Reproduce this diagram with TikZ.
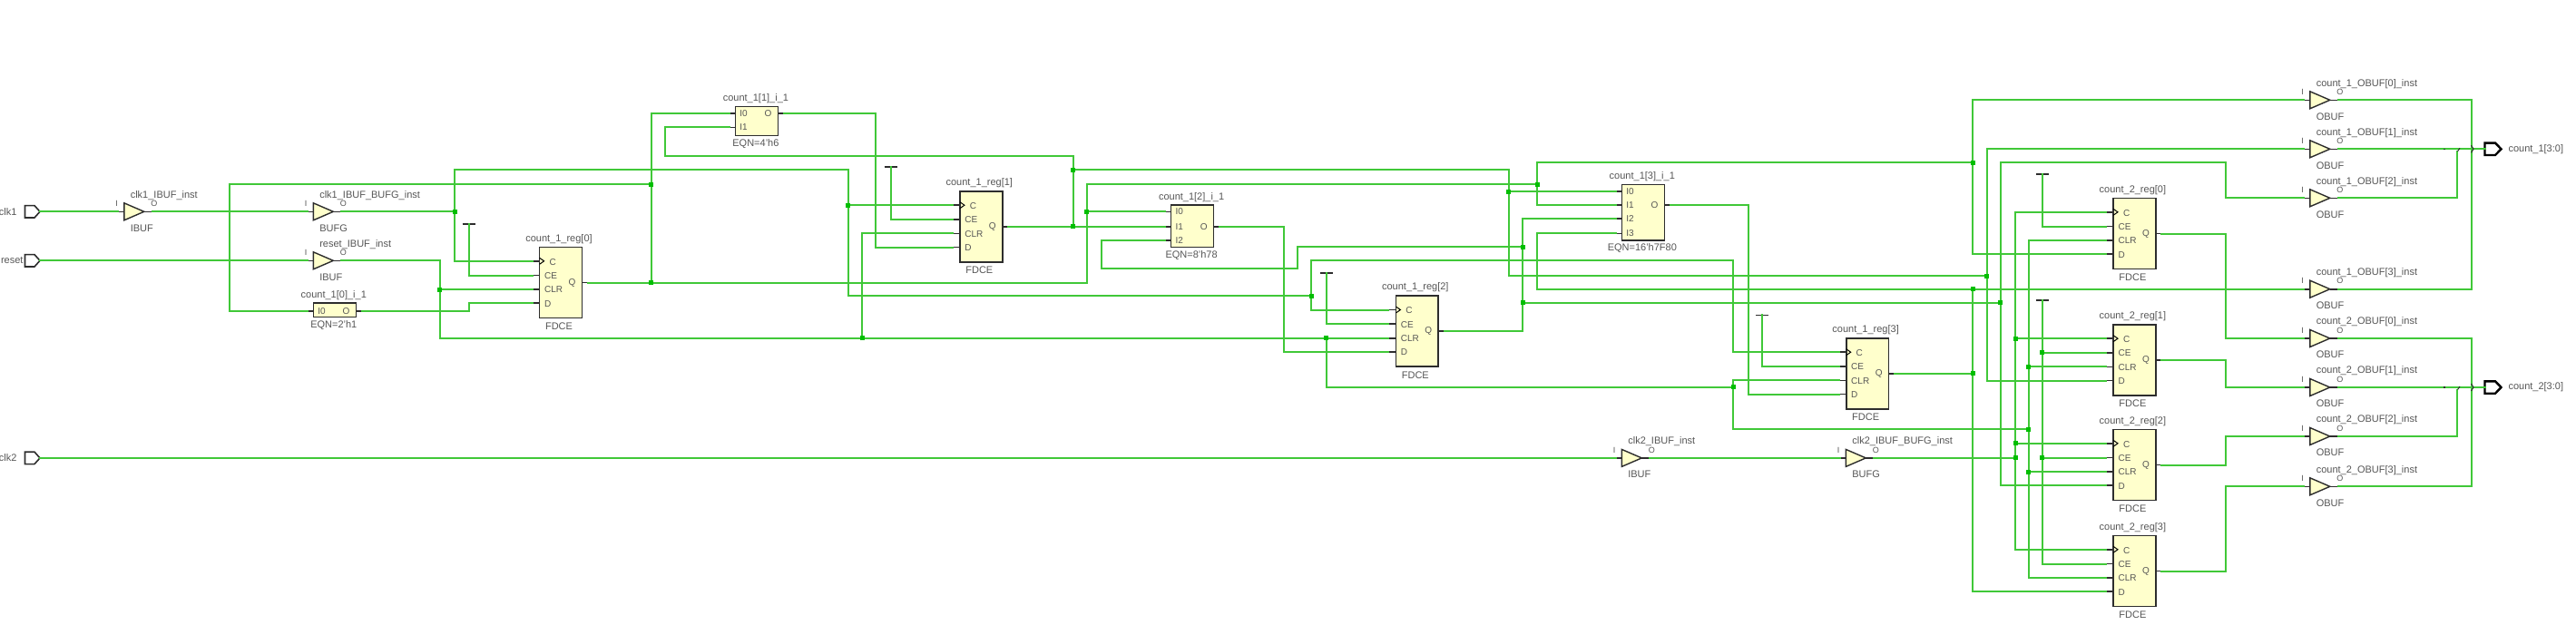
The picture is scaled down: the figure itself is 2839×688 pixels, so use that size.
\documentclass[tikz,border=0pt]{standalone}
\usepackage{fontspec}
\setmainfont{Liberation Sans}
\definecolor{wirec}{RGB}{64,200,56}
\definecolor{juncc}{RGB}{0,190,0}
\definecolor{cellc}{RGB}{255,255,204}
\definecolor{edgec}{RGB}{45,45,45}
\definecolor{textc}{RGB}{85,85,85}
\tikzset{
  wire/.style={draw=wirec,line width=2pt,line cap=rect,line join=miter},
  stub/.style={draw=edgec,line width=1.6pt},
  cellbox/.style={draw=edgec,fill=cellc,line width=1.6pt,inner sep=0pt,outer sep=0pt,anchor=north west},
  lbl/.style={text=textc,font=\fontsize{11}{12}\selectfont,inner sep=0pt,outer sep=0pt},
  pinl/.style={text=textc,font=\fontsize{10}{11}\selectfont,inner sep=0pt,outer sep=0pt},
  junc/.style={fill=juncc,draw=none,minimum size=5pt,inner sep=0pt},
  portin/.style={draw=edgec,fill=white,line width=1.6pt,line join=miter},
  portout/.style={draw=black,fill=white,line width=2.4pt,line join=miter},
}
% flip-flop: id x y0 instance
\newcommand{\ffcell}[4]{%
  \node[cellbox,minimum width=46.8pt,minimum height=78pt] (#1) at (#2,#3) {};
  \coordinate (#1C) at ([shift={(-8,15.5)}]#1.north west);
  \coordinate (#1E) at ([shift={(-8,31.2)}]#1.north west);
  \coordinate (#1R) at ([shift={(-8,46.7)}]#1.north west);
  \coordinate (#1D) at ([shift={(-8,61.8)}]#1.north west);
  \coordinate (#1Q) at ([shift={(6.5,39.2)}]#1.north east);
  \draw[stub] (#1C) -- ++(8,0);
  \draw[stub] (#1E) -- ++(8,0);
  \draw[stub] (#1R) -- ++(8,0);
  \draw[stub] (#1D) -- ++(8,0);
  \draw[stub] (#1Q) -- ++(-6.5,0);
  \draw[black,line width=1pt] ([shift={(0,12)}]#1.north west) -- ([shift={(5,15.5)}]#1.north west) -- ([shift={(0,19)}]#1.north west);
  \node[pinl,anchor=west] (#1lc) at ([shift={(11,16.5)}]#1.north west) {C};
  \node[pinl,anchor=west] (#1le) at ([shift={(5.5,31.7)}]#1.north west) {CE};
  \node[pinl,anchor=west] (#1lr) at ([shift={(5.5,47.2)}]#1.north west) {CLR};
  \node[pinl,anchor=west] (#1ld) at ([shift={(5.5,62.3)}]#1.north west) {D};
  \node[pinl,anchor=east] (#1lq) at ([shift={(-7,39.2)}]#1.north east) {Q};
  \node[lbl] (#1nm) at ([shift={(-2,-9)}]#1.north) {#4};
  \node[lbl] (#1ty) at ([shift={(-2,9.5)}]#1.south) {FDCE};
}
% lut: id x y0 height instance eqn
\newcommand{\lutcell}[6]{%
  \node[cellbox,minimum width=47pt,minimum height=#4pt] (#1) at (#2,#3) {};
  \node[lbl] (#1nm) at ([shift={(-1,-8.5)}]#1.north) {#5};
  \node[lbl] (#1eq) at ([shift={(-1,9)}]#1.south) {#6};
}
\newcommand{\lutin}[3]{% lut pin dy
  \coordinate (#1#2) at ([shift={(-6.5,#3)}]#1.north west);
  \draw[stub] (#1#2) -- ++(6.5,0);
  \node[pinl,anchor=west] (#1l#2) at ([shift={(5,#3)}]#1.north west) {#2};
}
\newcommand{\lutout}[2]{% lut dy
  \coordinate (#1O) at ([shift={(6.5,#2)}]#1.north east);
  \draw[stub] (#1O) -- ++(-6.5,0);
  \node[pinl,anchor=east] (#1lO) at ([shift={(-7,#2)}]#1.north east) {O};
}
% buffer: id x y name type
\newcommand{\bufcell}[5]{%
  \coordinate (#1I) at (#2-6.5,#3);
  \coordinate (#1O) at (#2+31,#3);
  \draw[stub] (#1I) -- (#2,#3);
  \draw[stub] (#2+22,#3) -- (#1O);
  \draw[draw=edgec,fill=cellc,line width=1.4pt,line join=miter] (#2,#3-9.5) -- (#2+22,#3) -- (#2,#3+9.5) -- cycle;
  \node[pinl,font=\fontsize{9}{10}\selectfont] (#1li) at (#2-8.3,#3-9) {I};
  \node[pinl,font=\fontsize{9}{10}\selectfont] (#1lo) at (#2+33,#3-9) {O};
  \node[lbl,anchor=west] (#1nm) at (#2+7,#3-18) {#4};
  \node[lbl,anchor=west] (#1ty) at (#2+7,#3+18) {#5};
}
\newcommand{\inport}[4]{% id y label labelright
  \draw[portin] (27.5,#2-6.7) -- (38,#2-6.7) -- (44,#2) -- (38,#2+6.7) -- (27.5,#2+6.7) -- cycle;
  \coordinate (#1) at (44,#2);
  \node[lbl,anchor=east] (#1l) at (#4,#2) {#3};
}
\newcommand{\outport}[3]{% id y label
  \draw[portout] (2738.5,#2-6.7) -- (2750,#2-6.7) -- (2756.5,#2) -- (2750,#2+6.7) -- (2738.5,#2+6.7) -- cycle;
  \coordinate (#1) at (2738.5,#2);
  \node[lbl,anchor=west] (#1l) at (2764.5,#2) {#3};
}
\newcommand{\tiecell}[3]{% id x ytop
  \coordinate (#1) at (#2,#3);
  \draw[stub] (#2-7,#3) -- (#2+7,#3);
}
\newcommand{\busmarks}[1]{%
  \draw[edgec,line width=1.2pt] (2692.5,#1) -- (2695,#1);
  \draw[edgec,line width=1pt] (2708.5,#1+2.5) -- (2711,#1-1);
  \draw[edgec,line width=1pt] (2723.5,#1-4) -- (2726,#1) -- (2723.5,#1+4);
}
\begin{document}
\begin{tikzpicture}[x=1pt,y=-1pt]
\useasboundingbox (0,0) rectangle (2839,688);
% ports
\inport{pclk}{233.3}{clk1}{18.5}
\inport{prst}{287.3}{reset}{25.5}
\inport{pclkb}{504.9}{clk2}{18.5}
\outport{pca}{164.3}{count\_1[3:0]}
\outport{pcb}{427}{count\_2[3:0]}
% buffers
\bufcell{ibufa}{136.8}{233.3}{clk1\_IBUF\_inst}{IBUF}
\bufcell{bufga}{345.3}{233.3}{clk1\_IBUF\_BUFG\_inst}{BUFG}
\bufcell{ibufr}{345.3}{287.3}{reset\_IBUF\_inst}{IBUF}
\bufcell{ibufb}{1787.3}{504.9}{clk2\_IBUF\_inst}{IBUF}
\bufcell{bufgb}{2034.3}{504.9}{clk2\_IBUF\_BUFG\_inst}{BUFG}
\bufcell{oaa}{2545.8}{110.3}{count\_1\_OBUF[0]\_inst}{OBUF}
\bufcell{oab}{2545.8}{164.3}{count\_1\_OBUF[1]\_inst}{OBUF}
\bufcell{oac}{2545.8}{218.3}{count\_1\_OBUF[2]\_inst}{OBUF}
\bufcell{oad}{2545.8}{318.7}{count\_1\_OBUF[3]\_inst}{OBUF}
\bufcell{oba}{2545.8}{373}{count\_2\_OBUF[0]\_inst}{OBUF}
\bufcell{obb}{2545.8}{427}{count\_2\_OBUF[1]\_inst}{OBUF}
\bufcell{obc}{2545.8}{481}{count\_2\_OBUF[2]\_inst}{OBUF}
\bufcell{obd}{2545.8}{536.3}{count\_2\_OBUF[3]\_inst}{OBUF}
% luts
\lutcell{luta}{345.3}{334}{15.3}{count\_1[0]\_i\_1}{EQN=2'h1}
\lutin{luta}{I0}{8.7}\lutout{luta}{8.7}
\lutcell{lutb}{810.4}{117.3}{32}{count\_1[1]\_i\_1}{EQN=4'h6}
\lutin{lutb}{I0}{7.7}\lutin{lutb}{I1}{23}\lutout{lutb}{7.7}
\lutcell{lutc}{1290.6}{225.7}{46.6}{count\_1[2]\_i\_1}{EQN=8'h78}
\lutin{lutc}{I0}{7.6}\lutin{lutc}{I1}{24.2}\lutin{lutc}{I2}{39}\lutout{lutc}{24.2}
\lutcell{lutd}{1787.3}{203.3}{61.4}{count\_1[3]\_i\_1}{EQN=16'h7F80}
\lutin{lutd}{I0}{7.7}\lutin{lutd}{I1}{22.7}\lutin{lutd}{I2}{37.4}\lutin{lutd}{I3}{54}\lutout{lutd}{22.7}
% flip-flops
\ffcell{ffa}{594.6}{272.3}{count\_1\_reg[0]}
\ffcell{ffb}{1057.9}{210.7}{count\_1\_reg[1]}
\ffcell{ffc}{1538.4}{326}{count\_1\_reg[2]}
\ffcell{ffd}{2034.7}{372.7}{count\_1\_reg[3]}
\ffcell{rga}{2329}{218.3}{count\_2\_reg[0]}
\ffcell{rgb}{2329}{357.7}{count\_2\_reg[1]}
\ffcell{rgc}{2329}{473.3}{count\_2\_reg[2]}
\ffcell{rgd}{2329}{590.3}{count\_2\_reg[3]}
% constant ties
\tiecell{tia}{516.5}{246.7}
\tiecell{tib}{981.6}{184}
\tiecell{tic}{1461.7}{301}
\tiecell{tid}{1942}{347.3}
\tiecell{tie}{2250.8}{191.7}
\tiecell{tif}{2250.8}{331}
\draw[wire] (tia) |- (ffaE);
\draw[wire] (tib) |- (ffbE);
\draw[wire] (tic) |- (ffcE);
\draw[wire] (tid) |- (ffdE);
\draw[wire] (tie) |- (rgaE);
\draw[wire] (tif) |- (rgdE);
\draw[wire] (2250.8,0 |- rgbE) -- (rgbE);
\draw[wire] (2250.8,0 |- rgcE) -- (rgcE);
% simple chains
\draw[wire] (pclk) -- (ibufaI);
\draw[wire] (ibufaO) -- (bufgaI);
\draw[wire] (prst) -- (ibufrI);
\draw[wire] (pclkb) -- (ibufbI);
\draw[wire] (ibufbO) -- (bufgbI);
% clk1
\draw[wire] (bufgaO) -| (501.4,187) -- (934.8,187) |- (ffbC);
\draw[wire] (501.4,187) |- (ffaC);
\draw[wire] (934.8,187) -- (934.8,326.3) -- (1445.2,326.3) |- (ffcC);
\draw[wire] (1445.2,326.3) -- (1445.2,287) -- (1910.3,287) |- (ffdC);
% reset
\draw[wire] (ibufrO) -| (484.8,0 |- ffcR) -- (ffcR);
\draw[wire] (484.8,0 |- ffaR) -- (ffaR);
\draw[wire] (950,0 |- ffcR) |- (ffbR);
\draw[wire] (1461.7,0 |- ffcR) -- (1461.7,426.7) -- (1910.3,426.7) |- (ffdR);
\draw[wire] (1910.3,426.7) -- (1910.3,473.3) -- (2235.7,473.3);
\draw[wire] (rgaR) -| (2235.7,0 |- rgdR) -- (rgdR);
\draw[wire] (2235.7,0 |- rgbR) -- (rgbR);
\draw[wire] (2235.7,0 |- rgcR) -- (rgcR);
% clk2
\draw[wire] (bufgbO) -- (2221,0 |- bufgbO);
\draw[wire] (rgaC) -| (2221,0 |- rgdC) -- (rgdC);
\draw[wire] (2221,0 |- rgbC) -- (rgbC);
\draw[wire] (2221,0 |- rgcC) -- (rgcC);
% Q0
\draw[wire] (ffaQ) -| (1197.9,203.3) -- (1694,203.3) -- (1694,179.3) -- (2174,179.3);
\draw[wire] (1694,179.3) |- (lutdI1);
\draw[wire] (717.6,0 |- ffaQ) |- (lutbI0);
\draw[wire] (252.5,203.3) -- (717.6,203.3);
\draw[wire] (252.5,203.3) |- (lutaI0);
\draw[wire] (1197.9,0 |- lutcI0) -- (lutcI0);
\draw[wire] (oaaI) -| (2174,0 |- rgaD) -- (rgaD);
% lut outputs
\draw[wire] (lutaO) -| (516.5,0 |- ffaD) -- (ffaD);
\draw[wire] (lutbO) -| (965,0 |- ffbD) -- (ffbD);
\draw[wire] (lutcO) -| (1415.4,0 |- ffcD) -- (ffcD);
\draw[wire] (lutdO) -| (1926.8,0 |- ffdD) -- (ffdD);
% Q1
\draw[wire] (ffbQ) -- (lutcI1);
\draw[wire] (1182.8,0 |- ffbQ) -- (1182.8,171.7) -- (732.8,171.7) |- (lutbI1);
\draw[wire] (1182.8,187) -- (1662.8,187) -- (1662.8,304) -- (2189.5,304);
\draw[wire] (1662.8,0 |- lutdI0) -- (lutdI0);
\draw[wire] (oabI) -| (2189.5,0 |- rgbD) -- (rgbD);
% Q2
\draw[wire] (lutcI2) -| (1214.4,296.3) -- (1430,296.3) -- (1430,272.3) -- (1678,272.3);
\draw[wire] (lutdI2) -| (1678,0 |- ffcQ) -- (ffcQ);
\draw[wire] (1678,333.7) -- (2204.6,333.7);
\draw[wire] (rgcD) -| (2204.6,179) -- (2453.4,179) |- (oacI);
% Q3
\draw[wire] (ffdQ) -- (2174,0 |- ffdQ);
\draw[wire] (rgdD) -| (2174,318.7);
\draw[wire] (lutdI3) -| (1694,318.7) -- (oadI);
% count_2 Q to OBUF
\draw[wire] (rgaQ) -| (2453.4,0 |- obaI) -- (obaI);
\draw[wire] (rgbQ) -| (2453.4,0 |- obbI) -- (obbI);
\draw[wire] (rgcQ) -| (2453.4,0 |- obcI) -- (obcI);
\draw[wire] (rgdQ) -| (2453.4,0 |- obdI) -- (obdI);
% outputs
\draw[wire] (oaaO) -| (2723.5,0 |- oadO) -- (oadO);
\draw[wire] (oabO) -- (pca);
\draw[wire] (oacO) -| (2708.4,167);
\draw[wire] (obaO) -| (2723.5,0 |- obdO) -- (obdO);
\draw[wire] (obbO) -- (pcb);
\draw[wire] (obcO) -| (2708.4,429.7);
\busmarks{164.3}
\busmarks{427}
% junctions
\node[junc] (j01) at (501.4,0 |- bufgaO) {};
\node[junc] (j02) at (934.8,0 |- ffbC) {};
\node[junc] (j03) at (1445.2,326.3) {};
\node[junc] (j04) at (484.8,0 |- ffaR) {};
\node[junc] (j05) at (950,0 |- ffcR) {};
\node[junc] (j06) at (1461.7,0 |- ffcR) {};
\node[junc] (j07) at (1910.3,426.7) {};
\node[junc] (j08) at (2235.7,473.3) {};
\node[junc] (j09) at (2235.7,0 |- rgbR) {};
\node[junc] (j10) at (2235.7,0 |- rgcR) {};
\node[junc] (j11) at (2221,0 |- bufgbO) {};
\node[junc] (j12) at (2221,0 |- rgbC) {};
\node[junc] (j13) at (2221,0 |- rgcC) {};
\node[junc] (j14) at (2250.8,0 |- rgbE) {};
\node[junc] (j15) at (2250.8,0 |- rgcE) {};
\node[junc] (j16) at (717.6,0 |- ffaQ) {};
\node[junc] (j17) at (717.6,203.3) {};
\node[junc] (j18) at (1197.9,0 |- lutcI0) {};
\node[junc] (j19) at (1694,203.3) {};
\node[junc] (j20) at (2174,179.3) {};
\node[junc] (j21) at (1182.8,0 |- ffbQ) {};
\node[junc] (j22) at (1182.8,187) {};
\node[junc] (j23) at (1662.8,0 |- lutdI0) {};
\node[junc] (j24) at (2189.5,304) {};
\node[junc] (j25) at (1678,272.3) {};
\node[junc] (j26) at (1678,333.7) {};
\node[junc] (j27) at (2204.6,333.7) {};
\node[junc] (j28) at (2174,0 |- ffdQ) {};
\node[junc] (j29) at (2174,318.7) {};
\end{tikzpicture}
\end{document}
